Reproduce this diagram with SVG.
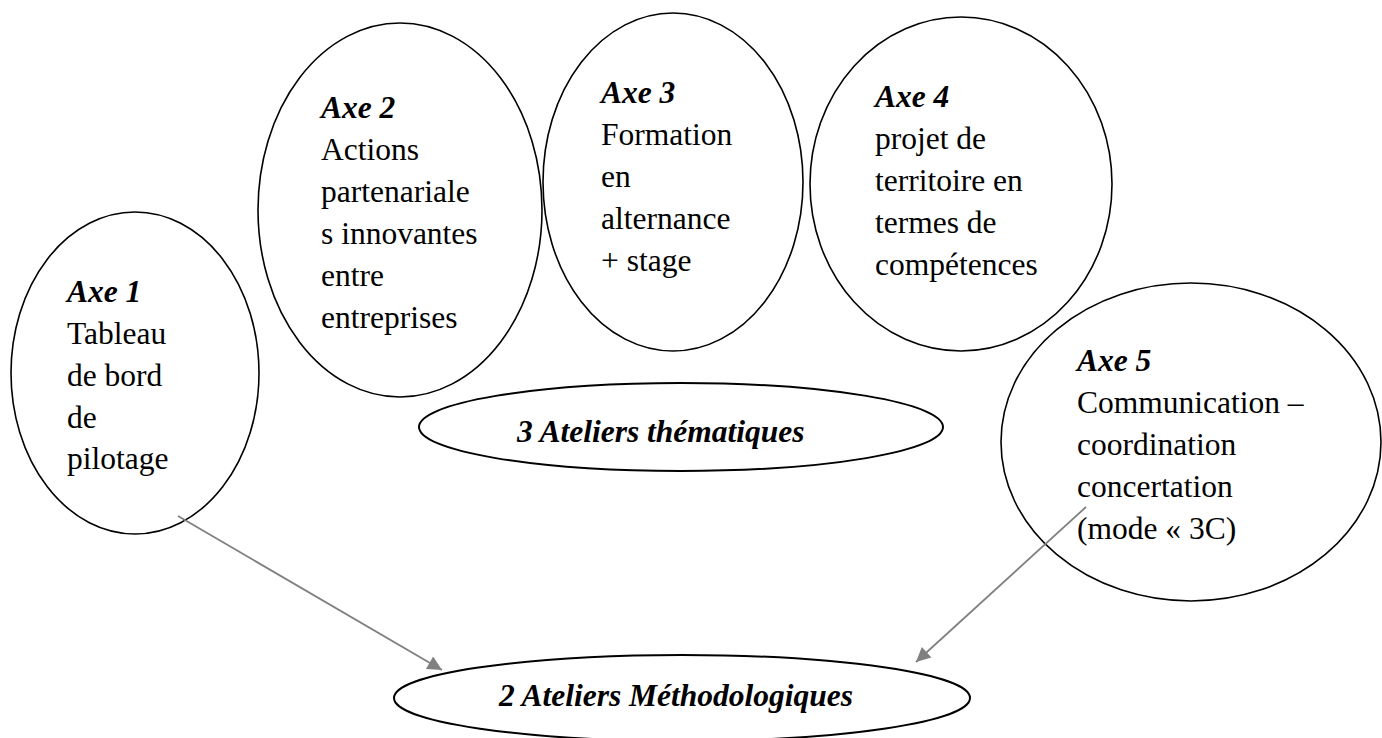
<svg xmlns="http://www.w3.org/2000/svg" width="1382" height="738" viewBox="0 0 1382 738">
<style>
.shape{fill:#fff;stroke:#000;stroke-width:1.6}
.wide{stroke-width:2}
.t{font-family:"Liberation Serif","Times New Roman",serif;font-size:31.5px;fill:#000}
.h{font-weight:bold;font-style:italic}
.conn{stroke:#808080;stroke-width:1.8;fill:none;marker-end:url(#arr)}
</style>
<defs>
<marker id="arr" viewBox="0 0 10 10" refX="10" refY="5" markerWidth="9" markerHeight="8" markerUnits="strokeWidth" orient="auto">
<path d="M0,0 L10,5 L0,10 z" fill="#808080"/>
</marker>
</defs>
<rect width="1382" height="738" fill="#fff"/>
<g id="axe2">
<ellipse class="shape" cx="400" cy="210" rx="142" ry="187"/>
<text class="t"><tspan class="h" x="321" y="118">Axe 2</tspan><tspan x="321" y="160">Actions</tspan><tspan x="321" y="202">partenariale</tspan><tspan x="321" y="244">s innovantes</tspan><tspan x="321" y="286">entre</tspan><tspan x="321" y="328">entreprises</tspan></text>
</g>
<g id="axe1">
<ellipse class="shape" cx="135" cy="373" rx="124" ry="161"/>
<text class="t"><tspan class="h" x="67" y="302">Axe 1</tspan><tspan x="67" y="344">Tableau</tspan><tspan x="67" y="386">de bord</tspan><tspan x="67" y="428">de</tspan><tspan x="67" y="469">pilotage</tspan></text>
</g>
<g id="axe3">
<ellipse class="shape" cx="673" cy="182" rx="130" ry="169"/>
<text class="t"><tspan class="h" x="601" y="103">Axe 3</tspan><tspan x="601" y="145">Formation</tspan><tspan x="601" y="187">en</tspan><tspan x="601" y="229">alternance</tspan><tspan x="601" y="271">+ stage</tspan></text>
</g>
<g id="axe4">
<ellipse class="shape" cx="961" cy="184" rx="151" ry="167"/>
<text class="t"><tspan class="h" x="875" y="107">Axe 4</tspan><tspan x="875" y="149">projet de</tspan><tspan x="875" y="191">territoire en</tspan><tspan x="875" y="233">termes de</tspan><tspan x="875" y="275">compétences</tspan></text>
</g>
<g id="axe5">
<ellipse class="shape" cx="1191" cy="442" rx="190" ry="159"/>
<text class="t"><tspan class="h" x="1077" y="371">Axe 5</tspan><tspan x="1077" y="413">Communication –</tspan><tspan x="1077" y="455">coordination</tspan><tspan x="1077" y="497">concertation</tspan><tspan x="1077" y="539">(mode « 3C)</tspan></text>
</g>
<g id="ateliers-thematiques">
<ellipse class="shape wide" cx="681" cy="427" rx="262" ry="44"/>
<text class="t h" x="517" y="442">3 Ateliers thématiques</text>
</g>
<g id="ateliers-methodologiques">
<ellipse class="shape wide" cx="682" cy="698" rx="288" ry="43"/>
<text class="t h" x="499" y="706">2 Ateliers Méthodologiques</text>
</g>
<g id="connectors">
<line class="conn" x1="178" y1="516" x2="442" y2="670"/>
<line class="conn" x1="1086" y1="507" x2="916" y2="662"/>
</g>
</svg>
